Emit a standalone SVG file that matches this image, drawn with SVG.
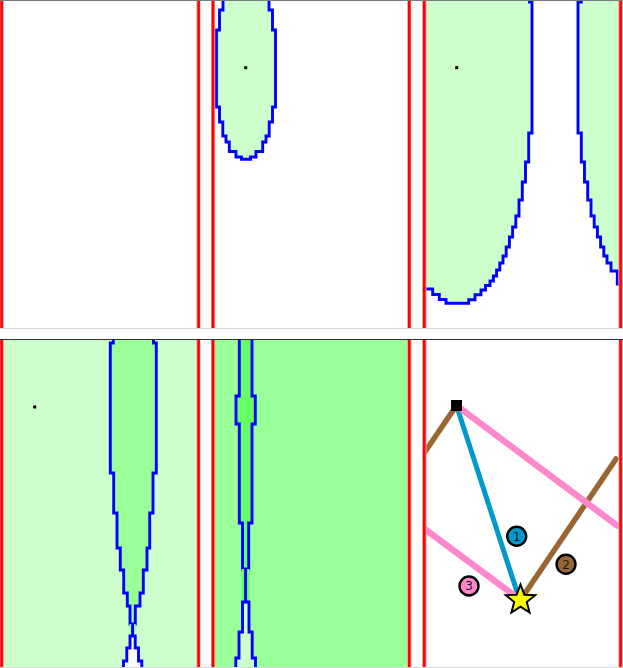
<svg xmlns="http://www.w3.org/2000/svg" width="623" height="668" viewBox="0 0 623 668">
<style>
.wo{stroke:#ff9a9a;stroke-width:4.4;fill:none}
.wi{stroke:#ff0000;stroke-width:2.6;fill:none}
.c{stroke:#0000ff;stroke-width:2.9;stroke-linejoin:miter;stroke-linecap:butt}
.n{fill:none}
.g1{fill:#ccffcc}
.g2{fill:#99ff99}
.g3{fill:#66ff66}
.w{fill:#ffffff}
.dot{fill:#000000}
.lbl{font-family:"DejaVu Sans","Liberation Sans",sans-serif;font-size:12px;fill:#1a1a1a;text-anchor:middle}
.lc{stroke:#000000;stroke-width:2.4}
.ln{fill:none;stroke-linecap:round}
</style>
<defs>
<clipPath id="cp1"><rect x="0" y="0" width="200.5" height="329"/></clipPath>
<clipPath id="cp2"><rect x="211" y="0" width="200.5" height="329"/></clipPath>
<clipPath id="cp3"><rect x="422" y="0" width="201" height="329"/></clipPath>
<clipPath id="cp4"><rect x="0" y="339" width="200.5" height="329"/></clipPath>
<clipPath id="cp5"><rect x="211" y="339" width="200.5" height="329"/></clipPath>
<clipPath id="cp6"><rect x="422" y="339" width="201" height="329"/></clipPath>
</defs>
<rect x="0" y="0" width="623" height="668" fill="#ffffff"/>

<g id="panel1" clip-path="url(#cp1)">
<line class="wo" x1="1.6" y1="0" x2="1.6" y2="329"/><line class="wi" x1="1.6" y1="0" x2="1.6" y2="329"/>
<line class="wo" x1="198.6" y1="0" x2="198.6" y2="329"/><line class="wi" x1="198.6" y1="0" x2="198.6" y2="329"/>
</g>

<g id="panel2" clip-path="url(#cp2)">
<path class="g1 c" d="M 223,-3 V 10 H 219.5 V 30 H 216.5 V 107 H 219.5 V 122 H 222.8 V 136 H 226 V 142 H 229.3 V 151.5 H 236 V 157 H 241.5 V 159.3 H 250.5 V 157 H 256 V 151.5 H 262.7 V 142 H 266 V 136 H 269.2 V 122 H 272.5 V 107 H 275.5 V 30 H 272.5 V 10 H 269 V -3 Z"/>
<rect class="dot" x="244.2" y="66.2" width="3" height="3"/>
<line class="wo" x1="213" y1="0" x2="213" y2="329"/><line class="wi" x1="213" y1="0" x2="213" y2="329"/>
<line class="wo" x1="409.3" y1="0" x2="409.3" y2="329"/><line class="wi" x1="409.3" y1="0" x2="409.3" y2="329"/>
</g>

<g id="panel3" clip-path="url(#cp3)">
<path class="g1" d="M 529.5,-3 V 2 H 532 V 133 H 528.7 V 162 H 525.5 V 182 H 522.3 V 200 H 519 V 216 H 515.8 V 227 H 512.6 V 237 H 509.4 V 247 H 506.2 V 256 H 503 V 263 H 499.8 V 270 H 496.6 V 276 H 493.4 V 281 H 490 V 285.5 H 485.5 V 290 H 481 V 294.7 H 475 V 299.7 H 468.7 V 303.3 H 446 V 299.5 H 439.3 V 294.5 H 432.7 V 289 H 420 V -3 Z"/>
<path class="c n" d="M 529.5,-3 V 2 H 532 V 133 H 528.7 V 162 H 525.5 V 182 H 522.3 V 200 H 519 V 216 H 515.8 V 227 H 512.6 V 237 H 509.4 V 247 H 506.2 V 256 H 503 V 263 H 499.8 V 270 H 496.6 V 276 H 493.4 V 281 H 490 V 285.5 H 485.5 V 290 H 481 V 294.7 H 475 V 299.7 H 468.7 V 303.3 H 446 V 299.5 H 439.3 V 294.5 H 432.7 V 289 H 420"/>
<path class="g1" d="M 581.3,-3 V 2 H 578 V 133 H 581.3 V 162 H 584.5 V 182 H 587.7 V 200 H 591 V 216 H 594.2 V 227 H 597.4 V 237 H 600.6 V 247 H 603.8 V 256 H 607 V 263 H 611 V 271 H 617.3 V 284 H 625 V -3 Z"/>
<path class="c n" d="M 581.3,-3 V 2 H 578 V 133 H 581.3 V 162 H 584.5 V 182 H 587.7 V 200 H 591 V 216 H 594.2 V 227 H 597.4 V 237 H 600.6 V 247 H 603.8 V 256 H 607 V 263 H 611 V 271 H 617.3 V 284 H 625"/>
<rect class="dot" x="455.2" y="66.2" width="3" height="3"/>
<line class="wo" x1="424.3" y1="0" x2="424.3" y2="329"/><line class="wi" x1="424.3" y1="0" x2="424.3" y2="329"/>
<line class="wo" x1="620.6" y1="0" x2="620.6" y2="329"/><line class="wi" x1="620.6" y1="0" x2="620.6" y2="329"/>
</g>

<g id="panel4" clip-path="url(#cp4)">
<rect class="g1" x="0" y="339" width="200.5" height="329"/>
<path class="g2 c" d="M 113.3,336 V 343 H 110.3 V 473 H 113.7 V 513 H 117 V 548 H 120.3 V 570 H 123.7 V 593 H 127.3 V 606 H 130 V 624 H 135.3 V 606 H 140 V 593 H 143.3 V 570 H 147 V 548 H 149.7 V 513 H 153 V 473 H 156.3 V 343 H 153.5 V 336 Z"/>
<rect class="g2" x="129.6" y="624" width="6" height="12"/>
<line class="c" x1="132.6" y1="623" x2="132.6" y2="637"/>
<path class="w c" d="M 132.6,636 H 130 V 648 H 126.8 V 661 H 123.5 V 671 H 141.8 V 661 H 138.5 V 648 H 135.2 V 636 Z"/>
<rect class="dot" x="33.2" y="405.5" width="3" height="3"/>
<line class="wo" x1="1.6" y1="339" x2="1.6" y2="668"/><line class="wi" x1="1.6" y1="339" x2="1.6" y2="668"/>
<line class="wo" x1="198.6" y1="339" x2="198.6" y2="668"/><line class="wi" x1="198.6" y1="339" x2="198.6" y2="668"/>
</g>

<g id="panel5" clip-path="url(#cp5)">
<rect class="g2" x="211" y="339" width="200.5" height="329"/>
<path class="g3 c" d="M 239.3,336 V 396 H 236 V 424 H 239.3 V 523 H 242.5 V 569 H 248.7 V 523 H 252 V 424 H 255.3 V 396 H 252 V 336 Z"/>
<rect class="g3" x="241.6" y="569" width="8" height="33"/>
<line class="c" x1="245.6" y1="568" x2="245.6" y2="603"/>
<path class="g1 c" d="M 245.6,602 H 242.5 V 632 H 239 V 658 H 235.8 V 671 H 255.5 V 658 H 252.2 V 632 H 249 V 602 Z"/>
<line class="wo" x1="213" y1="339" x2="213" y2="668"/><line class="wi" x1="213" y1="339" x2="213" y2="668"/>
<line class="wo" x1="409.3" y1="339" x2="409.3" y2="668"/><line class="wi" x1="409.3" y1="339" x2="409.3" y2="668"/>
</g>

<g id="panel6" clip-path="url(#cp6)">
<g id="connectors">
<line class="ln" stroke="#0099cc" stroke-width="5" stroke-linecap="butt" x1="456.5" y1="405.5" x2="519" y2="598"/>
<line class="ln" stroke="#996633" stroke-width="5.5" x1="520.5" y1="600" x2="616" y2="459"/>
<line class="ln" stroke="#996633" stroke-width="5.5" stroke-linecap="butt" x1="456.5" y1="405.5" x2="418" y2="462"/>
<line class="ln" stroke="#ff88cc" stroke-width="6.5" x1="456.5" y1="405.5" x2="617" y2="525.5"/>
<line class="ln" stroke="#ff88cc" stroke-width="6.5" stroke-linecap="butt" x1="418" y1="524" x2="519" y2="599"/>
</g>
<g id="start"><rect class="dot" x="451" y="400" width="11" height="11"/></g>
<g id="goal"><polygon fill="#ffff00" stroke="#000000" stroke-width="2" points="520.5,584.5 524.38,594.66 535.24,595.21 526.78,602.04 529.61,612.54 520.5,606.6 511.39,612.54 514.22,602.04 505.76,595.21 516.62,594.66"/></g>
<g id="label1"><circle class="lc" cx="516.7" cy="536.3" r="9.5" fill="#0099cc"/><text class="lbl" x="516.7" y="540.6">1</text></g>
<g id="label2"><circle class="lc" cx="566" cy="564.3" r="9.5" fill="#996633"/><text class="lbl" x="566" y="568.6">2</text></g>
<g id="label3"><circle class="lc" cx="469" cy="586" r="9.5" fill="#ff88cc"/><text class="lbl" x="469" y="590.3">3</text></g>
<line class="wo" x1="424.3" y1="339" x2="424.3" y2="668"/><line class="wi" x1="424.3" y1="339" x2="424.3" y2="668"/>
<line class="wo" x1="620.6" y1="339" x2="620.6" y2="668"/><line class="wi" x1="620.6" y1="339" x2="620.6" y2="668"/>
</g>

<g id="frames">
<line x1="0" y1="0.5" x2="623" y2="0.5" stroke="#7a7a7a" stroke-width="1"/>
<line x1="0" y1="328.5" x2="623" y2="328.5" stroke="#d6d6d6" stroke-width="1"/>
<line x1="0" y1="339.5" x2="623" y2="339.5" stroke="#333333" stroke-width="1"/>
<line x1="0" y1="667.5" x2="623" y2="667.5" stroke="#d6d6d6" stroke-width="1"/>
</g>
</svg>
